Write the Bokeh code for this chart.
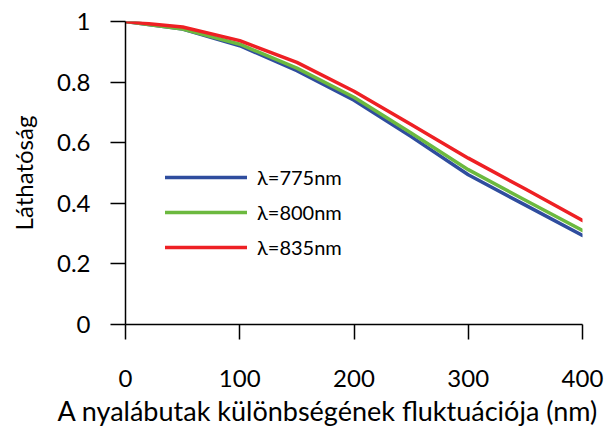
from bokeh.plotting import figure
from bokeh.models import Range1d, FixedTicker, Legend, LegendItem, Title
from bokeh.embed import file_html
from bokeh.resources import INLINE

# Fringe visibility vs. fluctuation of the arm-length difference
fluct_nm = [0, 50, 100, 150, 200, 250, 300, 350, 400]
vis_775 = [1.0, 0.975, 0.920, 0.838, 0.740, 0.620, 0.494, 0.394, 0.294]
vis_800 = [1.0, 0.975, 0.925, 0.846, 0.750, 0.632, 0.511, 0.410, 0.310]
vis_835 = [1.0, 0.982, 0.937, 0.865, 0.770, 0.660, 0.549, 0.447, 0.343]

series_labels = ["λ=775nm", "λ=800nm", "λ=835nm"]
series_colors = ["#2f4d9e", "#6cb93f", "#ee2024"]

x_ticks = [0, 100, 200, 300, 400]
y_ticks = [0, 0.2, 0.4, 0.6, 0.8, 1.0]
y_tick_labels = ["0", "0.2", "0.4", "0.6", "0.8", "1"]

x_title = "A nyalábutak különbségének fluktuációja (nm)"
y_title = "Láthatóság"

FONT = "Lato"

p = figure(
    width=610, height=428,
    output_backend="svg", toolbar_location=None,
    x_range=Range1d(0, 400), y_range=Range1d(0, 1.0),
    min_border_left=125, min_border_right=28,
    min_border_top=21, min_border_bottom=104,
)

p.outline_line_color = None
p.xgrid.grid_line_color = None
p.ygrid.grid_line_color = None
p.background_fill_color = "white"
p.border_fill_color = "white"

renderers = []
for ys, color in zip([vis_775, vis_800, vis_835], series_colors):
    r = p.line(fluct_nm, ys, line_color=color, line_width=3.5,
               line_join="round", line_cap="round")
    renderers.append(r)

legend = Legend(
    items=[LegendItem(label=lab, renderers=[r]) for lab, r in zip(series_labels, renderers)],
    location=(40, 65),
    border_line_color=None,
    background_fill_alpha=0,
    padding=0, margin=0,
    glyph_width=82, glyph_height=20,
    label_height=20, spacing=11, label_standoff=10,
    label_text_font=FONT, label_text_font_size="20px",
    label_text_color="black",
)
p.add_layout(legend, "center")

# x axis
xa = p.xaxis[0]
xa.ticker = FixedTicker(ticks=x_ticks)
xa.minor_tick_line_color = None
xa.major_tick_out = 15
xa.major_tick_in = 0
xa.major_tick_line_width = 1.5
xa.axis_line_width = 1.5
xa.axis_line_color = "black"
xa.major_tick_line_color = "black"
xa.major_label_standoff = 30
xa.major_label_text_font = FONT
xa.major_label_text_font_size = "24px"
xa.major_label_text_color = "black"

# the x title is wider than the frame, so it sits under the axis as a
# left-aligned title pulled out past the frame's left edge
x_caption = Title(
    text=x_title, align="left", offset=-68, standoff=4,
    text_font=FONT, text_font_size="27px", text_font_style="normal",
    text_color="black",
)
p.add_layout(x_caption, "below")

# y axis
ya = p.yaxis[0]
ya.ticker = FixedTicker(ticks=y_ticks)
ya.major_label_overrides = {t: s for t, s in zip(y_ticks, y_tick_labels)}
ya.minor_tick_line_color = None
ya.major_tick_out = 15
ya.major_tick_in = 0
ya.major_tick_line_width = 1.5
ya.axis_line_width = 1.5
ya.axis_line_color = "black"
ya.major_tick_line_color = "black"
ya.major_label_standoff = 20
ya.major_label_text_font = FONT
ya.major_label_text_font_size = "24px"
ya.major_label_text_color = "black"
ya.axis_label = y_title
ya.axis_label_text_font = FONT
ya.axis_label_text_font_size = "24px"
ya.axis_label_text_font_style = "normal"
ya.axis_label_text_color = "black"
ya.axis_label_standoff = 16

open("out.html", "w").write(file_html(p, INLINE))
